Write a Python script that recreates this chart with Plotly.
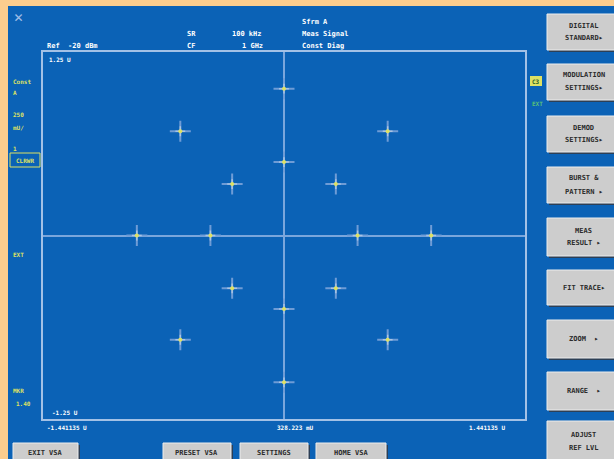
import plotly.graph_objects as go

W, H = 614, 459

# Constellation points (I/Q, units "U")
I_vals = [0.00, -0.62, 0.62, -0.31, 0.31, 0.00, -0.88, -0.44, 0.44, 0.88, -0.31, 0.31, 0.00, -0.62, 0.62, 0.00]
Q_vals = [1.00, 0.71, 0.71, 0.35, 0.35, 0.50, 0.00, 0.00, 0.00, 0.00, -0.36, -0.36, -0.50, -0.71, -0.71, -1.00]

x_range = [-1.441135, 1.441135]
y_range = [-1.25, 1.25]

right_buttons = [["DIGITAL", "STANDARD▸"], ["MODULATION", "SETTINGS▸"], ["DEMOD", "SETTINGS▸"],
                 ["BURST &", "PATTERN ▸"], ["MEAS", "RESULT ▸"], ["FIT TRACE▸"], ["ZOOM  ▸"],
                 ["RANGE  ▸"], ["ADJUST", "REF LVL"]]
bottom_buttons = ["EXIT VSA", "PRESET VSA", "SETTINGS", "HOME VSA"]

BG = "#0B62B6"
PEACH = "#FCCD8E"
FRAME = "#A3C1E6"
CROSS = "#7AA6DC"
YEL = "#DDE163"
BTN = "#CDCDCD"


def px(x):
    return x / W


def py(y):
    return 1 - y / H


fig = go.Figure()
fig.add_trace(go.Scatter(x=I_vals, y=Q_vals, mode="markers", hoverinfo="skip",
                         marker=dict(symbol="cross-thin", size=15, line=dict(color="#6F9CD6", width=2))))
fig.add_trace(go.Scatter(x=I_vals, y=Q_vals, mode="markers", hoverinfo="skip",
                         marker=dict(symbol="cross-thin", size=7, line=dict(color="#A9C4E4", width=1.5))))
fig.add_trace(go.Scatter(x=I_vals, y=Q_vals, mode="markers", hoverinfo="skip",
                         marker=dict(symbol="circle", size=4, color=YEL, line=dict(width=0))))

shapes = []
annotations = []

# peach border
shapes.append(dict(type="rect", xref="paper", yref="paper", x0=0, x1=1, y0=py(6), y1=1,
                   fillcolor=PEACH, line=dict(width=0), layer="below"))
shapes.append(dict(type="rect", xref="paper", yref="paper", x0=0, x1=px(8), y0=0, y1=1,
                   fillcolor=PEACH, line=dict(width=0), layer="below"))


def text(x, y, s, color="white", size=7, anchor="left", bold=True):
    annotations.append(dict(xref="paper", yref="paper", x=px(x), y=py(y), text=(f"<b>{s}</b>" if bold else s),
                            showarrow=False, xanchor=anchor, yanchor="middle",
                            font=dict(family="DejaVu Sans Mono", size=size, color=color)))


def button(x0, y0, x1, y1, lines, size=7):
    shapes.append(dict(type="rect", xref="paper", yref="paper", x0=px(x0 + 2), x1=px(x1 + 2),
                       y0=py(y1 + 2), y1=py(y0 + 2), fillcolor="#2D3F55", line=dict(width=0)))
    shapes.append(dict(type="rect", xref="paper", yref="paper", x0=px(x0), x1=px(x1),
                       y0=py(y1), y1=py(y0), fillcolor=BTN, line=dict(color="#EDEDED", width=1)))
    n = len(lines)
    cy = (y0 + y1) / 2
    for k, ln in enumerate(lines):
        yy = cy + (k - (n - 1) / 2) * 13
        text((x0 + x1) / 2, yy, ln, color="#2B2B2B", size=size, anchor="center")


# right buttons
rb_y = [(14, 50), (64, 100), (116, 152), (167, 203), (218, 256), (270, 305), (320, 358), (372, 410), (421, 462)]
for (y0, y1), lines in zip(rb_y, right_buttons):
    button(547, y0, 620, y1, lines)

# bottom buttons
bb_x = [(13, 78), (163, 231), (240, 308), (316, 386)]
for (x0, x1), lab in zip(bb_x, bottom_buttons):
    button(x0, 443, x1, 462, [lab])

# header texts
text(18, 17, "✕", color="#9DBCE6", size=15, anchor="center", bold=False)
text(45, 46, "Ref  -20 dBm")
text(185, 34, "SR")
text(230, 34, "100 kHz")
text(185, 46, "CF")
text(240, 46, "1 GHz")
text(300, 22, "Sfrm A")
text(300, 34, "Meas Signal")
text(300, 46, "Const Diag")

# left side labels
text(11, 82, "Const", color=YEL, size=6)
text(11, 93, "A", color=YEL, size=6)
text(11, 115, "250", color=YEL, size=6)
text(11, 127, "mU/", color=YEL, size=6)
text(11, 148, "1", color=YEL, size=6)
shapes.append(dict(type="rect", xref="paper", yref="paper", x0=px(10), x1=px(40), y0=py(167), y1=py(153),
                   fillcolor="rgba(0,0,0,0)", line=dict(color=YEL, width=1)))
text(25, 160, "CLRWR", color=YEL, size=6, anchor="center")
text(11, 254, "EXT", color=YEL, size=6)
text(11, 390, "MKR", color=YEL, size=6)
text(14, 403, "1.40", color=YEL, size=6)

# right side markers
shapes.append(dict(type="rect", xref="paper", yref="paper", x0=px(530), x1=px(542), y0=py(86), y1=py(76),
                   fillcolor=YEL, line=dict(width=0)))
text(536, 81, "C3", color="#1E5A2A", size=6, anchor="center")
text(530, 103, "EXT", color="#58C078", size=6)

# axis labels
text(47, 60, "1.25 U", size=6)
text(50, 412, "-1.25 U", size=6)
text(45, 427, "-1.441135 U", size=6)
text(275, 427, "328.223 mU", size=6)
text(467, 427, "1.441135 U", size=6)

fig.update_layout(
    width=W, height=H, margin=dict(l=0, r=0, t=0, b=0),
    paper_bgcolor=BG, plot_bgcolor=BG, showlegend=False,
    xaxis=dict(domain=[px(43), px(525)], range=x_range, showgrid=False, showticklabels=False, ticks="",
               zeroline=True, zerolinecolor=CROSS, zerolinewidth=2,
               showline=True, mirror=True, linecolor=FRAME, linewidth=2, fixedrange=True),
    yaxis=dict(domain=[py(419), py(52)], range=y_range, showgrid=False, showticklabels=False, ticks="",
               zeroline=True, zerolinecolor=CROSS, zerolinewidth=2,
               showline=True, mirror=True, linecolor=FRAME, linewidth=2, fixedrange=True),
    shapes=shapes, annotations=annotations,
)

fig.write_html("out.html", config={"displayModeBar": False})
